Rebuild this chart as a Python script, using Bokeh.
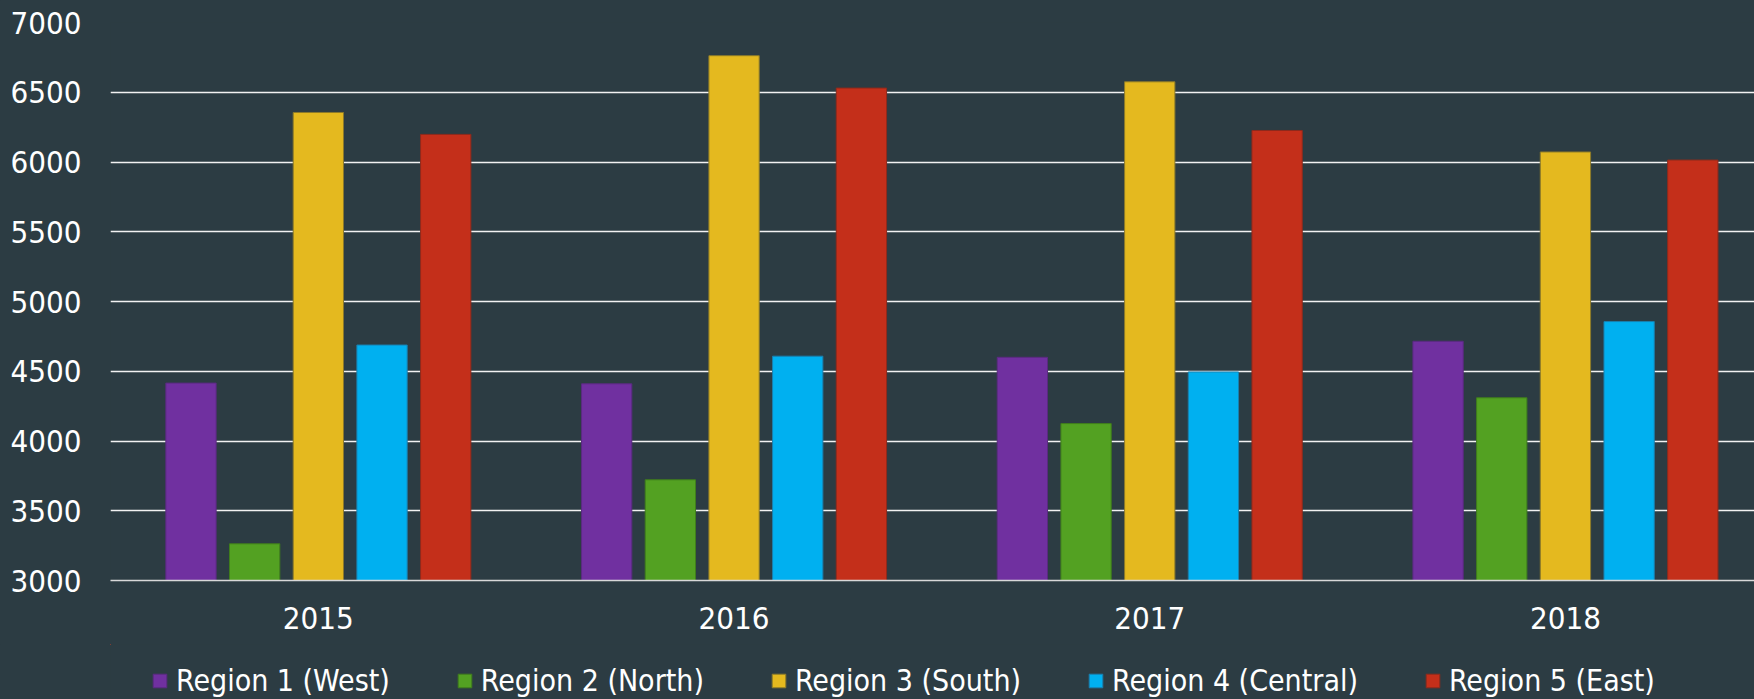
from bokeh.plotting import figure
from bokeh.layouts import column
from bokeh.models import ColumnDataSource, Range1d, FixedTicker, Legend, LegendItem
from bokeh.transform import dodge
from bokeh.embed import file_html
from bokeh.resources import INLINE

years = ["2015", "2016", "2017", "2018"]
series_names = ["Region 1 (West)", "Region 2 (North)", "Region 3 (South)",
                "Region 4 (Central)", "Region 5 (East)"]
region1_west = [4415, 4410, 4600, 4715]
region2_north = [3263, 3722, 4125, 4310]
region3_south = [6355, 6762, 6575, 6072]
region4_central = [4688, 4608, 4495, 4856]
region5_east = [6198, 6530, 6226, 6014]
y_ticks = [3000, 3500, 4000, 4500, 5000, 5500, 6000, 6500, 7000]

colors = ["#7030A0", "#53A122", "#E4B91F", "#00B0F0", "#C42F1A"]
edges = ["#5a2a80", "#3f7d1c", "#8c7a2a", "#1a7fae", "#8f2a1c"]
BG = "#2C3C43"
FONT = "DejaVu Sans Condensed"

src = ColumnDataSource(dict(
    x=list(range(len(years))),
    r1=region1_west, r2=region2_north, r3=region3_south,
    r4=region4_central, r5=region5_east,
))
cols = ["r1", "r2", "r3", "r4", "r5"]

# ---- main chart ----
p = figure(width=1754, height=644, output_backend="svg", toolbar_location=None,
           x_range=Range1d(-0.5, 3.4548), y_range=Range1d(3000, 7000),
           min_border_left=110, min_border_right=0, min_border_top=22,
           min_border_bottom=64)
p.background_fill_color = BG
p.border_fill_color = BG
p.outline_line_color = None

pitch = 0.1532
bw = 0.121
for k, col in enumerate(cols):
    p.vbar(x=dodge("x", (k - 2) * pitch), top=col, bottom=y_ticks[0], width=bw,
           source=src, fill_color=colors[k], line_color=edges[k], line_width=1)

p.xaxis.ticker = FixedTicker(ticks=list(range(len(years))))
p.xaxis.major_label_overrides = {i: y for i, y in enumerate(years)}
p.xaxis.major_tick_line_color = None
p.xaxis.minor_tick_line_color = None
p.xaxis.major_tick_out = 0
p.xaxis.major_tick_in = 0
p.xaxis.minor_tick_out = 0
p.xaxis.axis_line_color = "#d9d9d9"
p.xaxis.axis_line_width = 1.5
p.xaxis.major_label_standoff = 26
p.xaxis.major_label_text_font = FONT
p.xaxis.major_label_text_font_size = "31px"
p.xaxis.major_label_text_color = "#ffffff"

p.yaxis.ticker = FixedTicker(ticks=y_ticks)
p.yaxis.major_tick_line_color = None
p.yaxis.minor_tick_line_color = None
p.yaxis.major_tick_out = 0
p.yaxis.minor_tick_out = 0
p.yaxis.axis_line_color = None
p.yaxis.major_label_standoff = 29
p.yaxis.major_label_text_font = FONT
p.yaxis.major_label_text_font_size = "31px"
p.yaxis.major_label_text_color = "#ffffff"

p.xgrid.grid_line_color = None
p.ygrid.grid_line_color = "#f2f2f2"
p.ygrid.grid_line_width = 1.6

# ---- legend strip (legend drawn inside its own frame) ----
lg = figure(width=1754, height=55, output_backend="svg", toolbar_location=None,
            x_range=Range1d(10, 11), y_range=Range1d(10, 11),
            x_axis_type=None, y_axis_type=None,
            min_border_left=0, min_border_right=0, min_border_top=0, min_border_bottom=0)
lg.background_fill_color = BG
lg.border_fill_color = BG
lg.outline_line_color = None
lg.grid.visible = False

items = []
for k, col in enumerate(cols):
    r = lg.vbar(x=dodge("x", (k - 2) * pitch), top=col, bottom=y_ticks[0], width=bw,
                source=src, fill_color=colors[k], line_color=edges[k], line_width=1)
    items.append(LegendItem(label=series_names[k], renderers=[r]))

legend = Legend(items=items, orientation="horizontal", location=(41, 1),
                glyph_width=17, glyph_height=17, label_standoff=8, spacing=66,
                padding=0, margin=0, background_fill_alpha=0, border_line_color=None,
                label_text_font=FONT, label_text_font_size="30px",
                label_text_color="#ffffff")
lg.add_layout(legend, "center")

layout = column(p, lg, spacing=0)

html = file_html(layout, INLINE)
html = html.replace("<head>", "<head><style>html,body{margin:0;padding:0;background:#2C3C43;overflow:hidden;}</style>", 1)
open("out.html", "w").write(html)
